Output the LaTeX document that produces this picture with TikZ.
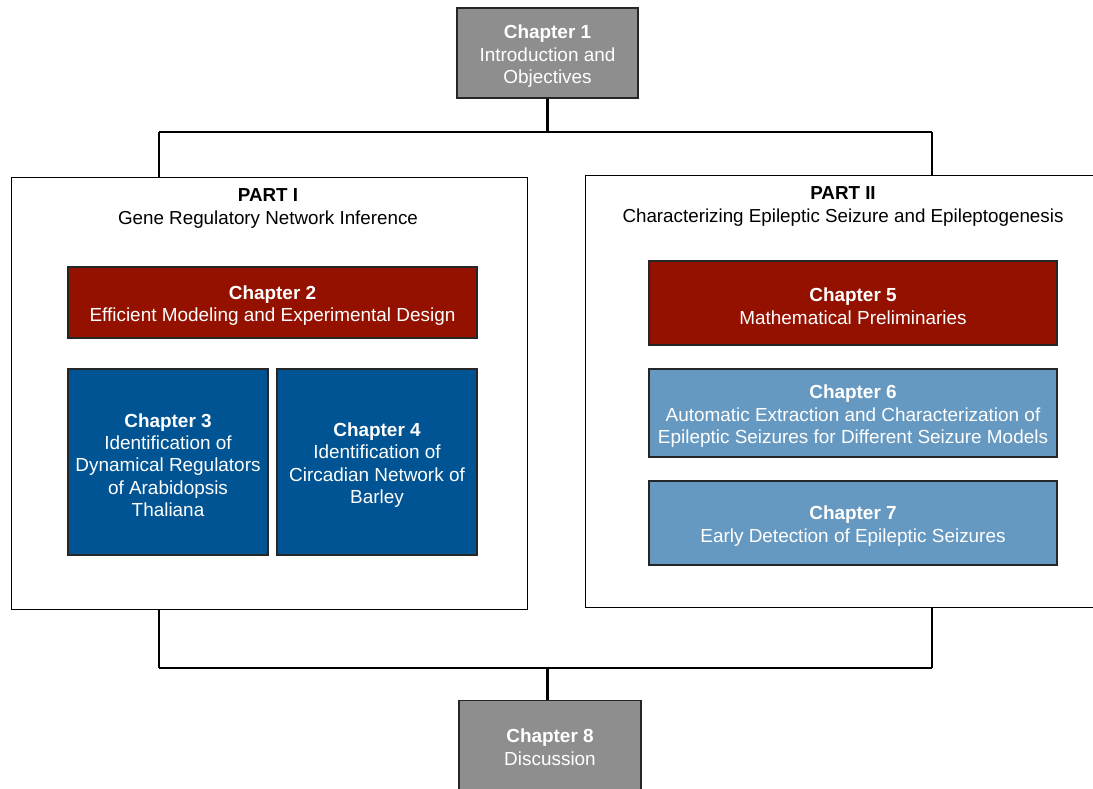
\documentclass[tikz,border=0pt]{standalone}
\usepackage{fontspec}
\setmainfont{Liberation Sans}
% taller first line pushes the text block a little lower in its box
\newcommand\firstlinestrut{\rule{0pt}{15pt}}
\begin{document}
\definecolor{chgray}{HTML}{8E8E8E}
\definecolor{chred}{HTML}{941100}
\definecolor{chblue}{HTML}{005493}
\definecolor{chlight}{HTML}{6699C1}
\begin{tikzpicture}[x=0.75pt,y=-0.75pt,
  chap/.style={draw=black!85, line width=0.8pt, text=white, align=center,
    inner sep=0pt, font=\fontsize{14.2}{16.8}\selectfont},
  part/.style={draw=black, line width=0.8pt, fill=white},
  ptitle/.style={align=center, font=\fontsize{14.1}{16.8}\selectfont},
  link/.style={line width=2pt}]
\useasboundingbox (0,0) rectangle (1093,789);
\clip (0,0) rectangle (1093,789);

% part frames
\node[part, minimum width=516*0.75pt, minimum height=432*0.75pt, anchor=north west] (part1) at (11,177) {};
\node[part, minimum width=520*0.75pt, minimum height=432*0.75pt, anchor=north west] (part2) at (585,175) {};
\node[ptitle] (p1t) at (268,205) {\firstlinestrut\textbf{PART I}\\Gene Regulatory Network Inference};
\node[ptitle] (p2t) at (843,203) {\firstlinestrut\textbf{PART II}\\Characterizing Epileptic Seizure and Epileptogenesis};

% chapters
\node[chap, fill=chgray, minimum width=181*0.75pt, minimum height=90*0.75pt] (ch1) at (547.5,53)
  {\firstlinestrut\textbf{Chapter 1}\\Introduction and\\Objectives};
\node[chap, fill=chred, minimum width=409*0.75pt, minimum height=71*0.75pt] (ch2) at (272.5,302.5)
  {\firstlinestrut\textbf{Chapter 2}\\Efficient Modeling and Experimental Design};
\node[chap, fill=chblue, minimum width=200*0.75pt, minimum height=186*0.75pt] (ch3) at (168,462)
  {\firstlinestrut\textbf{Chapter 3}\\Identification of\\Dynamical Regulators\\of Arabidopsis\\Thaliana};
\node[chap, fill=chblue, minimum width=200*0.75pt, minimum height=186*0.75pt] (ch4) at (377,462)
  {\firstlinestrut\textbf{Chapter 4}\\Identification of\\Circadian Network of\\Barley};
\node[chap, fill=chred, minimum width=408*0.75pt, minimum height=84*0.75pt] (ch5) at (853,303)
  {\firstlinestrut\textbf{Chapter 5}\\Mathematical Preliminaries};
\node[chap, fill=chlight, minimum width=408*0.75pt, minimum height=88*0.75pt] (ch6) at (853,413)
  {\firstlinestrut\textbf{Chapter 6}\\Automatic Extraction and Characterization of\\Epileptic Seizures for Different Seizure Models};
\node[chap, fill=chlight, minimum width=408*0.75pt, minimum height=84*0.75pt] (ch7) at (853,523)
  {\firstlinestrut\textbf{Chapter 7}\\Early Detection of Epileptic Seizures};
\node[chap, fill=chgray, minimum width=182*0.75pt, minimum height=110*0.75pt, anchor=north] (ch8) at (550,700) {};
\node[chap, draw=none] (ch8t) at (550,744) {\firstlinestrut\textbf{Chapter 8}\\Discussion};

% tree connectors
\coordinate (tl) at (159,132);
\coordinate (tr) at (932,132);
\coordinate (bl) at (159,668);
\coordinate (br) at (932,668);
\draw[link] (ch1.south) -- (ch1.south |- tl);
\draw[link] (tl) -- (tr);
\draw[link] (tl) -- (tl |- part1.north);
\draw[link] (tr) -- (tr |- part2.north);
\draw[link] (bl |- part1.south) -- (bl);
\draw[link] (br |- part2.south) -- (br);
\draw[link] (bl) -- (br);
\draw[link] (ch8.north -| ch1.south) -- (ch1.south |- bl);
\end{tikzpicture}
\end{document}
